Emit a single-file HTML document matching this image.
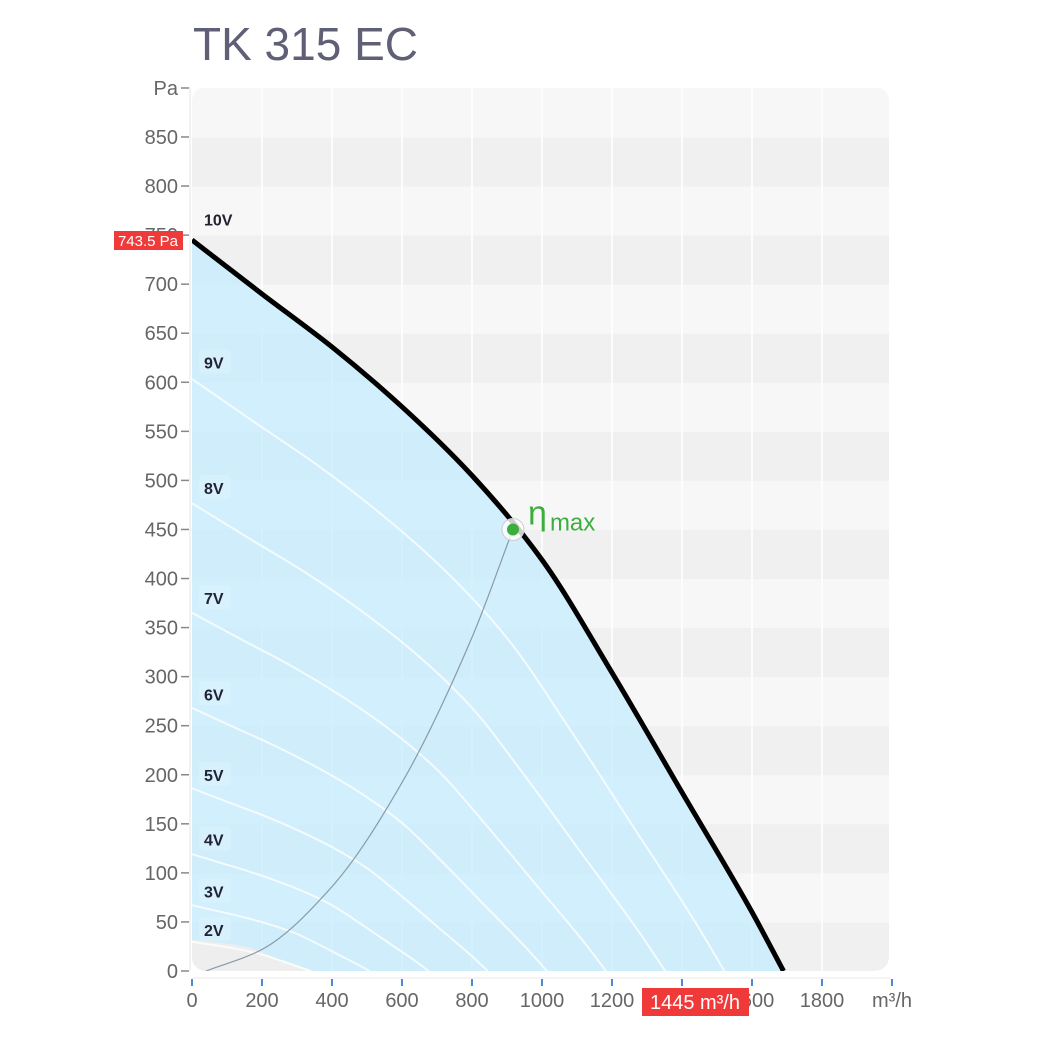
<!DOCTYPE html>
<html><head><meta charset="utf-8"><style>
body{margin:0;background:#fff;width:1047px;height:1047px;overflow:hidden}
svg text{font-family:"Liberation Sans",sans-serif}
</style></head><body>
<svg id="chart" width="1047" height="1047" viewBox="0 0 1047 1047" xmlns="http://www.w3.org/2000/svg">
<text x="193" y="60" font-size="46" fill="#5f5f75">TK 315 EC</text>
<defs><clipPath id="pc"><rect x="192" y="87" width="697" height="884" rx="14"/></clipPath></defs>
<g id="bands" clip-path="url(#pc)"></g>
<g id="grid" clip-path="url(#pc)"></g>
<g id="fills" clip-path="url(#pc)"></g>
<g id="lines" clip-path="url(#pc)"></g>
<g id="axes"></g>
<g id="labels"></g>
</svg>
<script>
const xTicks=[0,200,400,600,800,1000,1200,1400,1600,1800];
const yTicks=[0,50,100,150,200,250,300,350,400,450,500,550,600,650,700,750,800,850];
const maxFlow=[0,200,400,600,800,1000,1200,1400,1600,1690];
const maxPress=[745,690,636,575,505,419,304,182,60,0];
const speedRatios=[0.9,0.8,0.7,0.6,0.5,0.4,0.3,0.2];
const speedNames=["10V","9V","8V","7V","6V","5V","4V","3V","2V"];
const speedLabelP=[766,620,492,380,282,200,134,81,42];
const sysFlow=[40,200,400,600,800,917];
const sysPress=[0,22,86,192,340,450];
const minFlow=[0,150,250,350];
const minPress=[32,25,12,0];
const etaFlow=917, etaPress=450;
const NS="http://www.w3.org/2000/svg";
const X=v=>192+v*0.35, Y=v=>971-v*0.9812;
function mk(t,a,p){const e=document.createElementNS(NS,t);for(const k in a)e.setAttribute(k,a[k]);p.appendChild(e);return e;}
function path(fx,py){
  const xs=fx.map(X), ys=py.map(Y), n=xs.length;
  const d=[],m=[];
  for(let i=0;i<n-1;i++)d.push((ys[i+1]-ys[i])/(xs[i+1]-xs[i]));
  m[0]=d[0];m[n-1]=d[n-2];
  for(let i=1;i<n-1;i++){
    if(d[i-1]*d[i]<=0)m[i]=0;
    else{const h0=xs[i]-xs[i-1],h1=xs[i+1]-xs[i];const w1=2*h1+h0,w2=h1+2*h0;m[i]=(w1+w2)/(w1/d[i-1]+w2/d[i]);}
  }
  let s="M"+xs[0]+","+ys[0];
  for(let i=0;i<n-1;i++){
    const h=(xs[i+1]-xs[i])/3;
    s+=`C${xs[i]+h},${ys[i]+m[i]*h} ${xs[i+1]-h},${ys[i+1]-m[i+1]*h} ${xs[i+1]},${ys[i+1]}`;
  }
  return s;
}
const bands=document.getElementById('bands');
for(let v=0;v<900;v+=50){
  const r=mk('rect',{x:192,y:Y(v+50),width:697,height:Y(v)-Y(v+50)+0.5,fill:(v/50)%2?'#f7f7f7':'#f0f0f0'},bands);
  
  
}
const grid=document.getElementById('grid');
xTicks.forEach(t=>{if(t>0){const l=mk('line',{x1:X(t),x2:X(t),y1:87,y2:971,stroke:'#fff','stroke-width':1.5},grid);

}});
const fills=document.getElementById('fills');
const area=mk('path',{d:path(maxFlow,maxPress)+`L${X(0)},${Y(0)}Z`,fill:'#c4ecff','fill-opacity':0.72},fills);


const minA=mk('path',{d:path(minFlow,minPress)+`L${X(0)},${Y(0)}Z`,fill:'#eeeeee'},fills);


const lines=document.getElementById('lines');
speedRatios.forEach(r=>{
  const l=mk('path',{d:path(maxFlow.map(f=>f*r),maxPress.map(p=>p*r*r)),fill:'none',stroke:'#ffffff','stroke-opacity':0.75,'stroke-width':2},lines);
  
  
});
const sys=mk('path',{d:path(sysFlow,sysPress),fill:'none',stroke:'#8a9aa8','stroke-width':1.2},lines);


const mx=mk('path',{d:path(maxFlow,maxPress),fill:'none',stroke:'#000','stroke-width':5},lines);


const axes=document.getElementById('axes');
mk('line',{x1:190,x2:190,y1:87,y2:971,stroke:'#e4e4e4','stroke-width':1},axes);
mk('line',{x1:192,x2:890,y1:978,y2:978,stroke:'#e8e8e8','stroke-width':1},axes);
yTicks.forEach(t=>{
  mk('line',{x1:181,x2:189,y1:Y(t),y2:Y(t),stroke:'#888','stroke-width':1.5},axes);
  const tx=mk('text',{x:178,y:Y(t)+7,'text-anchor':'end','font-size':20,fill:'#666'},axes);tx.textContent=t;
  
  
});
mk('line',{x1:181,x2:189,y1:88,y2:88,stroke:'#888','stroke-width':1.5},axes);
const pa=mk('text',{x:178,y:95,'text-anchor':'end','font-size':20,fill:'#666'},axes);pa.textContent='Pa';


xTicks.concat([2000]).forEach(t=>{
  mk('line',{x1:X(t),x2:X(t),y1:979,y2:986,stroke:'#4a8ad0','stroke-width':2},axes);
  const tx=mk('text',{x:X(t),y:1007,'text-anchor':'middle','font-size':20,fill:'#666'},axes);tx.textContent=t==2000?'m³/h':t;
  
  
});
const lab=document.getElementById('labels');
speedNames.forEach((n,i)=>{
  const y=Y(speedLabelP[i]);
  if(i>0)mk('rect',{x:199,y:y-13,width:32,height:24,rx:4,fill:'#d8f1fc','fill-opacity':0.8},lab);
  const t=mk('text',{x:204,y:y+6,'font-size':16,'font-weight':'bold',fill:'#223'},lab);t.textContent=n;
  
  
});
mk('rect',{x:114,y:231,width:69,height:19,fill:'#f03a3a'},lab);
const pt=mk('text',{x:148,y:246,'text-anchor':'middle','font-size':15,fill:'#fff'},lab);pt.textContent='743.5 Pa';


mk('rect',{x:642,y:988,width:107,height:28,fill:'#f03a3a'},lab);
const ft=mk('text',{x:695,y:1009,'text-anchor':'middle','font-size':20,fill:'#fff'},lab);ft.textContent='1445 m³/h';


mk('circle',{cx:X(etaFlow),cy:Y(etaPress),r:11,fill:'#fff','fill-opacity':0.8,stroke:'#ccc'},lab);
const ep=mk('circle',{cx:X(etaFlow),cy:Y(etaPress),r:6,fill:'#3cae3c'},lab);


const et=mk('text',{x:X(etaFlow)+15,y:Y(etaPress)-5,'font-size':34,fill:'#3cae3c'},lab);et.textContent='η';


const es=mk('text',{x:X(etaFlow)+37,y:Y(etaPress)+1,'font-size':24,fill:'#3cae3c'},lab);es.textContent='max';


</script>
</body></html>
